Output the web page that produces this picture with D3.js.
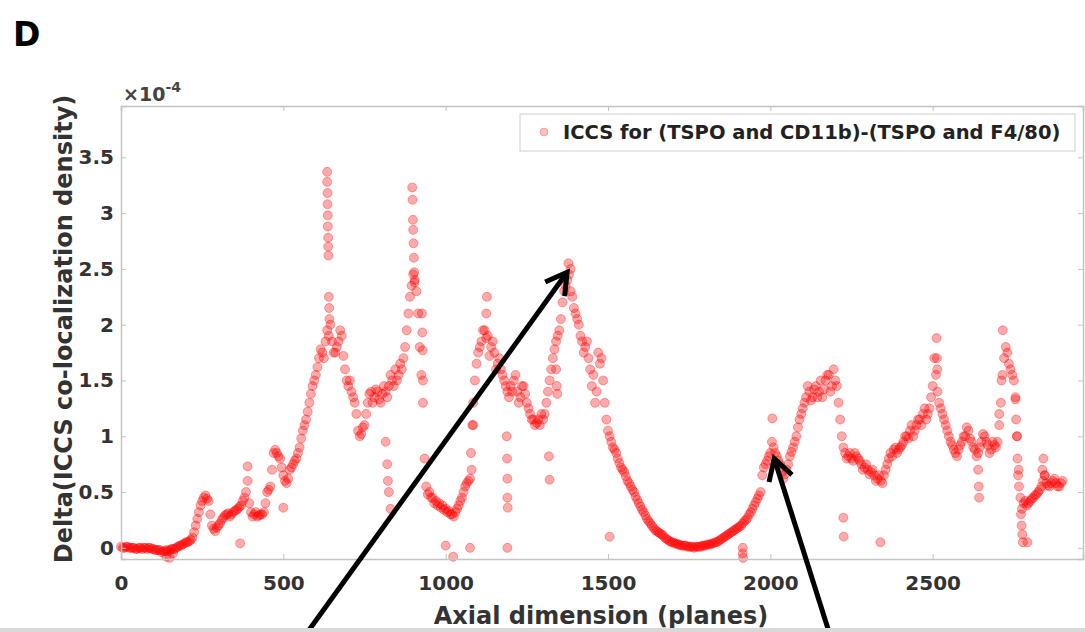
<!DOCTYPE html>
<html>
<head>
<meta charset="utf-8">
<script src="https://cdn.jsdelivr.net/npm/d3@7"></script>
<style>
  body { margin: 0; background: #fff; }
  svg { display: block; }
  text { font-family: "DejaVu Sans", "Liberation Sans", Arial, sans-serif; font-weight: bold; }
</style>
</head>
<body>
<div id="chart"></div>
<script>
// readings every 10 planes starting at plane 0 (x 1e-4)
var planeStep = 10;
var iccsDelta = [
  0.01, 0.0, 0.01, 0.0, 0.0, -0.01, 0.0, 0.0, -0.01, 0.0,          // 0-90
  -0.01, -0.02, -0.02, -0.03, -0.02, -0.02, -0.01, 0.0, 0.02, 0.03, // 100-190
  0.05, 0.06, 0.09, 0.2, 0.32, 0.42, 0.47, 0.42, 0.2, 0.15,         // 200-290
  0.2, 0.25, 0.29, 0.31, 0.3, 0.33, 0.35, 0.38, 0.45, 0.6,          // 300-390
  0.32, 0.3, 0.28, 0.3, 0.32, 0.5, 0.55, 0.85, 0.85, 0.8,           // 400-490
  0.65, 0.58, 0.7, 0.75, 0.8, 0.9, 1.05, 1.15, 1.3, 1.45,           // 500-590
  1.55, 1.7, 1.75, 1.85, 1.9, 1.85, 1.75, 1.85, 1.9, 1.6,           // 600-690
  1.45, 1.4, 1.3, 1.05, 1.02, 1.1, 1.3, 1.4, 1.35, 1.4,             // 700-790
  1.3, 1.45, 1.35, 1.55, 1.45, 1.5, 1.65, 1.7, 1.95, 2.25,          // 800-890
  2.45, 2.3, 1.8, 1.3, 0.55, 0.5, 0.45, 0.42, 0.4, 0.38,            // 900-990
  0.35, 0.33, 0.3, 0.32, 0.38, 0.45, 0.55, 0.6, 0.7, 1.5,           // 1000-1090
  1.75, 1.85, 1.95, 1.9, 1.8, 1.75, 1.65, 1.6, 1.5, 1.4,            // 1100-1190
  1.45, 1.5, 1.4, 1.35, 1.45, 1.3, 1.2, 1.15, 1.12, 1.1,            // 1200-1290
  1.15, 1.3, 1.5, 1.7, 1.85, 1.95, 2.2, 2.35, 2.45, 2.25,           // 1300-1390
  2.1, 2.0, 1.85, 1.8, 1.7, 1.45, 1.3, 1.75, 1.7, 1.3,              // 1400-1490
  1.05, 0.95, 0.88, 0.8, 0.72, 0.68, 0.6, 0.55, 0.5, 0.43,          // 1500-1590
  0.37, 0.32, 0.26, 0.22, 0.18, 0.15, 0.13, 0.11, 0.08, 0.06,       // 1600-1690
  0.05, 0.04, 0.03, 0.02, 0.02, 0.01, 0.01, 0.01, 0.01, 0.02,       // 1700-1790
  0.02, 0.03, 0.04, 0.05, 0.06, 0.08, 0.1, 0.12, 0.14, 0.16,        // 1800-1890
  0.18, 0.2, 0.24, 0.27, 0.32, 0.38, 0.44, 0.5, 0.72, 0.78,         // 1900-1990
  0.85, 0.9, 0.82, 0.75, 0.62, 0.7, 0.82, 0.9, 1.0, 1.15,           // 2000-2090
  1.25, 1.35, 1.4, 1.35, 1.45, 1.4, 1.35, 1.5, 1.55, 1.45,          // 2100-2190
  1.5, 1.3, 1.0, 0.85, 0.82, 0.8, 0.85, 0.8, 0.75, 0.72,            // 2200-2290
  0.7, 0.68, 0.65, 0.62, 0.6, 0.65, 0.75, 0.85, 0.88, 0.85,         // 2300-2390
  0.9, 0.95, 1.0, 1.05, 1.0, 1.1, 1.15, 1.2, 1.15, 1.25,            // 2400-2490
  1.45, 1.55, 1.3, 1.2, 1.1, 1.0, 0.92, 0.85, 0.88, 0.95,           // 2500-2590
  1.0, 1.05, 0.95, 0.88, 0.85, 0.95, 1.0, 0.92, 0.88, 0.92,         // 2600-2690
  0.95, 1.3, 1.7, 1.75, 1.6, 1.5, 1.0, 0.45, 0.4, 0.38,             // 2700-2790
  0.42, 0.45, 0.48, 0.52, 0.6, 0.58, 0.55, 0.6, 0.58, 0.55,         // 2800-2890
  0.6                                                              // 2900
];

// readings in between, planes 5, 15, ..., 2895
var iccsDeltaMid = [
  0.0, 0.01, 0.0, 0.0, -0.01, 0.0, -0.01, 0.0, 0.0, -0.01,          // 5-95
  -0.02, -0.02, -0.04, -0.03, -0.03, -0.01, -0.01, 0.01, 0.02, 0.04, // 105-195
  0.05, 0.07, 0.14, 0.26, 0.38, 0.45, 0.44, 0.3, 0.17, 0.18,        // 205-295
  0.22, 0.27, 0.3, 0.28, 0.32, 0.34, 0.37, 0.42, 0.5, 0.4,          // 305-395
  0.28, 0.32, 0.29, 0.3, 0.4, 0.52, 0.7, 0.88, 0.82, 0.72,          // 405-495
  0.6, 0.62, 0.72, 0.78, 0.85, 0.98, 1.1, 1.22, 1.38, 1.5,          // 505-595
  1.62, 1.78, 1.7, 1.95, 2.0, 1.75, 1.8, 1.95, 1.72, 1.5,           // 605-695
  1.5, 1.35, 1.2, 1.0, 1.08, 1.2, 1.38, 1.3, 1.42, 1.33,            // 705-795
  1.38, 1.4, 1.45, 1.5, 1.6, 1.55, 1.6, 1.8, 2.1, 2.35,             // 805-895
  2.4, 2.1, 1.55, 0.8, 0.48, 0.45, 0.4, 0.38, 0.36, 0.34,           // 905-995
  0.32, 0.3, 0.28, 0.35, 0.42, 0.5, 0.58, 0.62, 1.1, 1.65,          // 1005-1095
  1.8, 1.95, 1.88, 1.72, 1.85, 1.6, 1.7, 1.55, 1.45, 1.35,          // 1105-1195
  1.4, 1.55, 1.3, 1.45, 1.38, 1.25, 1.15, 1.1, 1.15, 1.2,           // 1205-1295
  1.2, 1.4, 1.6, 1.78, 1.9, 2.05, 2.3, 2.4, 2.3, 2.15,              // 1305-1395
  2.05, 1.9, 1.75, 1.85, 1.6, 1.55, 1.4, 1.65, 1.5, 1.15,           // 1405-1495
  1.0, 0.9, 0.85, 0.76, 0.7, 0.64, 0.58, 0.52, 0.46, 0.4,           // 1505-1595
  0.34, 0.29, 0.24, 0.2, 0.16, 0.14, 0.12, 0.09, 0.07, 0.05,        // 1605-1695
  0.04, 0.03, 0.02, 0.02, 0.01, 0.01, 0.0, 0.01, 0.01, 0.02,        // 1705-1795
  0.03, 0.03, 0.04, 0.05, 0.07, 0.09, 0.11, 0.13, 0.15, 0.17,       // 1805-1895
  0.19, 0.22, 0.25, 0.3, 0.35, 0.41, 0.47, 0.65, 0.75, 0.82,        // 1905-1995
  0.95, 0.85, 0.78, 0.68, 0.66, 0.75, 0.86, 0.95, 1.08, 1.2,        // 2005-2095
  1.3, 1.45, 1.32, 1.42, 1.35, 1.5, 1.42, 1.55, 1.4, 1.6,           // 2105-2195
  1.45, 1.15, 0.9, 0.8, 0.85, 0.78, 0.82, 0.78, 0.7, 0.75,          // 2205-2295
  0.66, 0.7, 0.6, 0.65, 0.58, 0.7, 0.8, 0.82, 0.9, 0.88,            // 2305-2395
  0.92, 1.0, 0.98, 1.1, 1.05, 1.15, 1.1, 1.25, 1.2, 1.35,           // 2405-2495
  1.7, 1.4, 1.25, 1.15, 1.05, 0.95, 0.88, 0.82, 0.92, 1.0,          // 2505-2595
  1.08, 0.98, 0.9, 0.82, 0.9, 1.02, 0.95, 0.85, 0.95, 0.9,          // 2605-2695
  1.1, 1.55, 1.8, 1.65, 1.55, 1.35, 0.7, 0.35, 0.42, 0.4,           // 2705-2795
  0.44, 0.47, 0.5, 0.55, 0.65, 0.56, 0.58, 0.62, 0.55, 0.58         // 2805-2895
];

// sparse points that sit off the main band: [plane, value]
var strayPoints = [
  [140, -0.08], [150, -0.09], [160, -0.05], [367, 0.04], [390, 0.73], [500, 0.36],
  [635, 3.37], [635, 3.28], [636, 3.18], [636, 3.08], [637, 2.98], [637, 2.88],
  [638, 2.78], [638, 2.7], [639, 2.62], [640, 2.25], [641, 2.15], [642, 2.05],
  [897, 3.23], [898, 3.12], [899, 2.94], [900, 2.85], [901, 2.73], [902, 2.6],
  [903, 2.47], [904, 2.38], [927, 2.1], [928, 1.93], [929, 1.77], [930, 1.5],
  [815, 0.95], [820, 0.75], [822, 0.6], [825, 0.5], [830, 0.35],
  [1000, 0.02], [1023, -0.08], [1075, 0.0], [1078, 0.85], [1082, 1.1], [1085, 1.3],
  [1125, 2.1], [1127, 2.25], [1188, 1.0], [1189, 0.8], [1190, 0.62], [1190, 0.45],
  [1191, 0.36], [1190, 0.0], [1318, 0.82], [1320, 0.61], [1340, 1.6], [1342, 1.45],
  [1344, 1.38], [1378, 2.55], [1385, 2.5], [1505, 0.1], [1915, 0.0], [1915, -0.05],
  [1916, -0.09], [2006, 1.16], [2225, 0.27], [2226, 0.1], [2339, 0.05],
  [2512, 1.88], [2513, 1.7], [2514, 1.6], [2640, 0.7], [2642, 0.55], [2643, 0.45],
  [2705, 1.2], [2712, 1.5], [2716, 1.95], [2755, 1.33], [2757, 1.15], [2759, 1.0],
  [2761, 0.8], [2763, 0.65], [2766, 0.55], [2772, 0.3], [2774, 0.2], [2776, 0.12],
  [2778, 0.05], [2792, 0.05], [2838, 0.7], [2841, 0.8], [2845, 0.65]
];

// the two annotation arrows: [tail plane, tail value, tip plane, tip value]
var arrows = [
  [551, -0.85, 1374, 2.47],
  [2190, -0.84, 2012, 0.8]
];

var xTicks = [0, 500, 1000, 1500, 2000, 2500];
var yTicks = [0, 0.5, 1, 1.5, 2, 2.5, 3, 3.5];
var legendLabel = "ICCS for (TSPO and CD11b)-(TSPO and F4/80)";

var width = 1085, height = 632;
var margin = {top: 106, right: 2, bottom: 73, left: 121};

var svg = d3.select("#chart").append("svg")
    .attr("width", width)
    .attr("height", height);

var x = d3.scaleLinear().domain([0, 2963]).range([margin.left, width - margin.right]);
var y = d3.scaleLinear().domain([-0.1, 3.96]).range([height - margin.bottom, margin.top]);

var axisGrey = "#c4c4c4", labelGrey = "#333";

var points = iccsDelta.map(function(v, i) { return [i * planeStep, v]; })
    .concat(iccsDeltaMid.map(function(v, i) { return [i * planeStep + planeStep / 2, v]; }))
    .concat(strayPoints);

// markers
svg.append("g")
    .selectAll("circle")
    .data(points)
    .enter().append("circle")
    .attr("cx", function(d) { return x(d[0]); })
    .attr("cy", function(d) { return y(d[1]); })
    .attr("r", 4.5)
    .attr("fill", "#ff0000")
    .attr("fill-opacity", 0.33)
    .attr("stroke", "#ff0000")
    .attr("stroke-opacity", 0.33)
    .attr("stroke-width", 1);

// box + inward ticks
var xAxis = svg.append("g")
    .attr("transform", "translate(0," + y.range()[0] + ")")
    .call(d3.axisBottom(x).tickValues(xTicks).tickSize(-5).tickPadding(17).tickFormat(d3.format("d")));
var xTop = svg.append("g")
    .attr("transform", "translate(0," + y.range()[1] + ")")
    .call(d3.axisTop(x).tickValues(xTicks).tickSize(-5).tickFormat(""));
var yAxis = svg.append("g")
    .attr("transform", "translate(" + x.range()[0] + ",0)")
    .call(d3.axisLeft(y).tickValues(yTicks).tickSize(-5).tickPadding(7).tickFormat(d3.format("~g")));
var yRight = svg.append("g")
    .attr("transform", "translate(" + x.range()[1] + ",0)")
    .call(d3.axisRight(y).tickValues(yTicks).tickSize(-5).tickFormat(""));

[xAxis, xTop, yAxis, yRight].forEach(function(a) {
    a.select(".domain").attr("stroke", axisGrey).attr("stroke-width", 1.5);
    a.selectAll(".tick line").attr("stroke", axisGrey);
    a.selectAll(".tick text")
        .attr("fill", labelGrey)
        .style("font-family", "'DejaVu Sans', sans-serif")
        .style("font-size", "20px")
        .style("font-weight", "bold");
});

// exponent
var expo = svg.append("text")
    .attr("x", 123)
    .attr("y", 101)
    .attr("fill", "#444")
    .style("font-size", "19px");
expo.append("tspan").text("\u00d710");
expo.append("tspan").attr("dy", -9).style("font-size", "14px").text("-4");

// axis labels
svg.append("text")
    .attr("x", 601)
    .attr("y", 624)
    .attr("text-anchor", "middle")
    .attr("fill", labelGrey)
    .style("font-size", "24px")
    .text("Axial dimension (planes)");

svg.append("text")
    .attr("transform", "translate(72,329) rotate(-90)")
    .attr("text-anchor", "middle")
    .attr("fill", labelGrey)
    .style("font-size", "24px")
    .text("Delta(ICCS co-localization density)");

// panel letter
svg.append("text")
    .attr("x", 13)
    .attr("y", 46)
    .attr("fill", "#000")
    .style("font-size", "33px")
    .text("D");

// legend
var leg = svg.append("g");
leg.append("rect")
    .attr("x", 520).attr("y", 114)
    .attr("width", 555).attr("height", 37)
    .attr("fill", "#fff")
    .attr("stroke", "#d0d0d0");
leg.append("circle")
    .attr("cx", 544).attr("cy", 132).attr("r", 4)
    .attr("fill", "#ff0000").attr("fill-opacity", 0.25)
    .attr("stroke", "#ff0000").attr("stroke-opacity", 0.25);
leg.append("text")
    .attr("x", 563).attr("y", 139)
    .attr("fill", "#222")
    .style("font-size", "19.5px")
    .text(legendLabel);

// arrows
arrows.forEach(function(a) {
    var x0 = x(a[0]), y0 = y(a[1]), x1 = x(a[2]), y1 = y(a[3]);
    var ang = Math.atan2(y1 - y0, x1 - x0), head = 24, spread = Math.PI / 6;
    svg.append("line")
        .attr("x1", x0).attr("y1", y0).attr("x2", x1).attr("y2", y1)
        .attr("stroke", "#000").attr("stroke-width", 5);
    svg.append("path")
        .attr("d", "M" + (x1 - head * Math.cos(ang - spread)) + "," + (y1 - head * Math.sin(ang - spread)) +
                   "L" + x1 + "," + y1 +
                   "L" + (x1 - head * Math.cos(ang + spread)) + "," + (y1 - head * Math.sin(ang + spread)))
        .attr("fill", "none")
        .attr("stroke", "#000")
        .attr("stroke-width", 5)
        .attr("stroke-linejoin", "miter");
});

// strip along the lower edge of the figure
svg.append("rect")
    .attr("x", 0).attr("y", 628)
    .attr("width", width).attr("height", 4)
    .attr("fill", "#d8d8d8");
</script>
</body>
</html>
